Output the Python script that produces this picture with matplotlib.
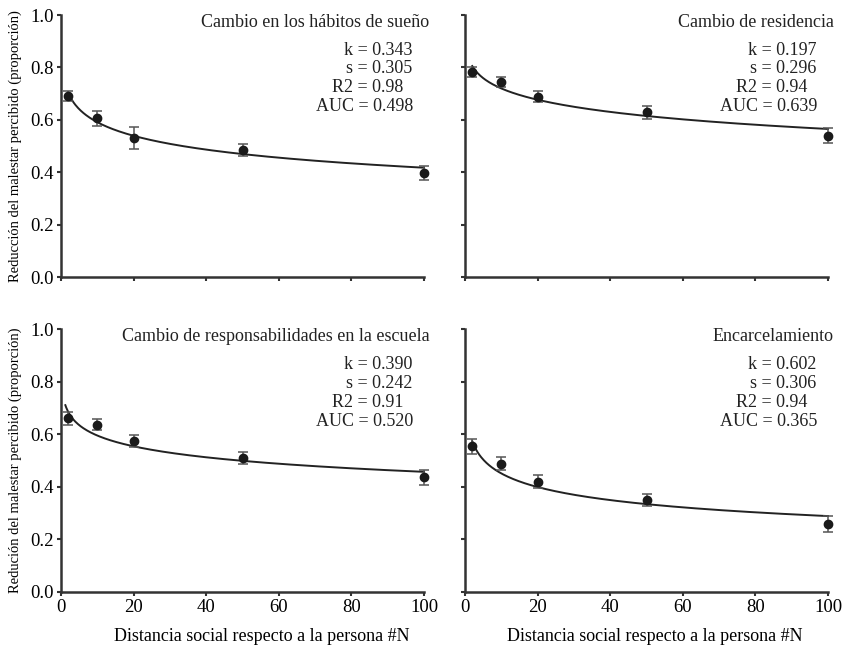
import numpy as np
import matplotlib
matplotlib.use("Agg")
import matplotlib.pyplot as plt

plt.rcParams['font.family'] = ['Liberation Serif', 'DejaVu Serif']

# ---- data ----
distances = [2, 10, 20, 50, 100]

titles = ["Cambio en los hábitos de sueño", "Cambio de residencia",
          "Cambio de responsabilidades en la escuela", "Encarcelamiento"]

sueno_y = [0.692, 0.606, 0.530, 0.485, 0.398]
sueno_err = [0.019, 0.029, 0.043, 0.024, 0.027]
residencia_y = [0.783, 0.743, 0.688, 0.628, 0.539]
residencia_err = [0.020, 0.019, 0.021, 0.024, 0.029]
escuela_y = [0.660, 0.636, 0.574, 0.509, 0.436]
escuela_err = [0.025, 0.020, 0.022, 0.024, 0.029]
carcel_y = [0.554, 0.488, 0.420, 0.350, 0.259]
carcel_err = [0.028, 0.025, 0.025, 0.024, 0.030]

k_vals = [0.343, 0.197, 0.390, 0.602]
s_vals = [0.305, 0.296, 0.242, 0.306]
r2_vals = ["0.98", "0.94", "0.91", "0.94"]
auc_vals = ["0.498", "0.639", "0.520", "0.365"]
curve_start = [2, 2, 1.2, 2]

ylabels = ["Reducción del malestar percibido (proporción)", None,
           "Redución del malestar percibido (proporción)", None]
xlabel = "Distancia social respecto a la persona #N"
xticks = [0, 20, 40, 60, 80, 100]
yticks = [0.0, 0.2, 0.4, 0.6, 0.8, 1.0]

series_y = [sueno_y, residencia_y, escuela_y, carcel_y]
series_err = [sueno_err, residencia_err, escuela_err, carcel_err]

# ---- figure ----
W, H = 849, 646
fig = plt.figure(figsize=(W / 100, H / 100), dpi=100)

def px_axes(l, t, r, b):
    return fig.add_axes([l / W, 1 - b / H, (r - l) / W, (b - t) / H])

boxes = [(61, 15, 424, 277), (465, 15, 828, 277),
         (61, 329, 424, 592), (465, 329, 828, 592)]
xlabel_x = [None, None, 0.553, 0.524]

col = '#1a1a1a'
for i, box in enumerate(boxes):
    ax = px_axes(*box)
    ax.set_xlim(0, 100)
    ax.set_ylim(0, 1.0)
    for sp in ['top', 'right']:
        ax.spines[sp].set_visible(False)
    for sp in ['left', 'bottom']:
        ax.spines[sp].set_linewidth(1.8)
        ax.spines[sp].set_color('#333333')
    ax.set_xticks(xticks)
    ax.set_yticks(yticks)
    ax.tick_params(direction='out', length=3, width=1.5, color='#333333',
                   labelsize=13.5, pad=2)
    if i < 2:
        ax.set_xticklabels([])
    else:
        ax.set_xticklabels([str(t) for t in xticks])
        ax.set_xlabel(xlabel, fontsize=13)
        ax.xaxis.set_label_coords(xlabel_x[i], -0.135)
    if i % 2 == 1:
        ax.set_yticklabels([])
    else:
        ax.set_yticklabels([f"{t:.1f}" for t in yticks])
        ax.set_ylabel(ylabels[i], fontsize=10.5, labelpad=6)

    k, s = k_vals[i], s_vals[i]
    n = np.linspace(curve_start[i], 100, 400)
    ax.plot(n, 1.0 / (1.0 + k * n ** s), color='#222222', lw=1.4, clip_on=False)
    ax.errorbar(distances, series_y[i], yerr=series_err[i], fmt='o',
                color=col, ecolor='#555555', ms=6, capsize=3.5,
                elinewidth=1.1, capthick=1.1, clip_on=False, zorder=3)

    ax.text(1.015, 1.005, titles[i], transform=ax.transAxes, ha='right',
            va='top', fontsize=13, color='#222222')
    lines = [f"k = {k:.3f}", f"s = {s:.3f}", f"R2 = {r2_vals[i]}",
             f"AUC = {auc_vals[i]}"]
    offsets = [0, 0, -9, 1]
    for j, (txt, off) in enumerate(zip(lines, offsets)):
        ax.annotate(txt, xy=(0.968, 0.866 - j * 0.072), xycoords='axes fraction',
                    xytext=(off, 0), textcoords='offset pixels',
                    ha='right', va='center', fontsize=13, color='#222222')

fig.savefig("out.png", dpi=100)
